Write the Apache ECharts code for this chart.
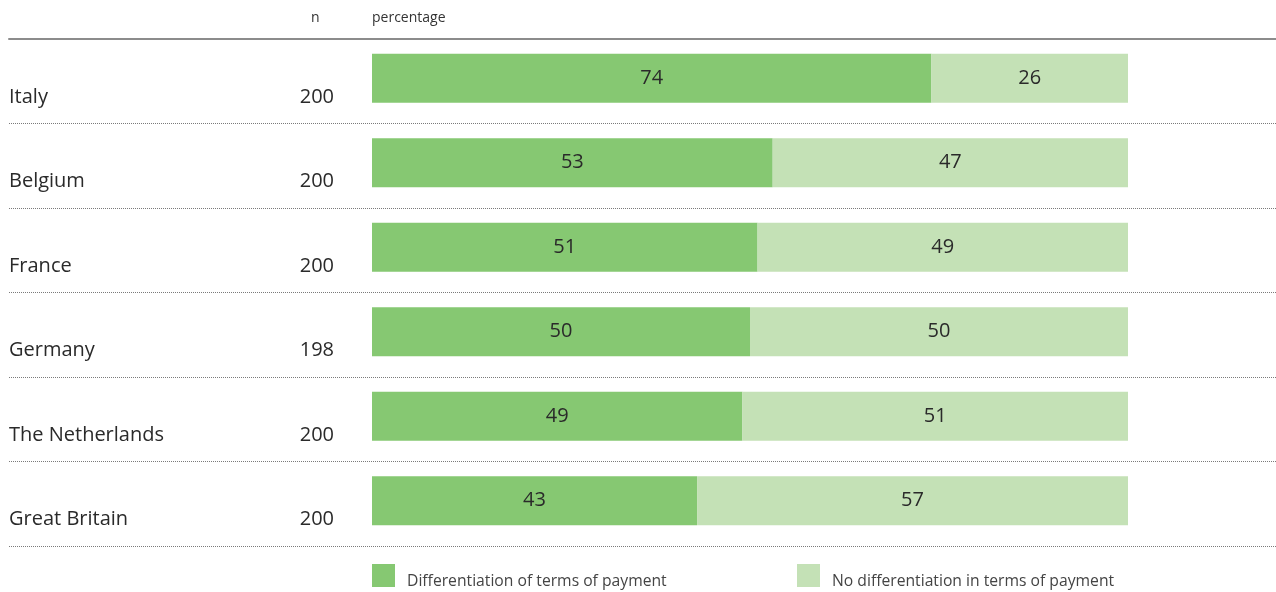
<!DOCTYPE html>
<html>
<head>
<meta charset="utf-8">
<script src="https://cdn.jsdelivr.net/npm/echarts@6/dist/echarts.min.js"></script>
<style>
  html, body { margin: 0; padding: 0; background: #fff; }
  #chart { width: 1276px; height: 592px; }
</style>
</head>
<body>
<div id="chart"></div>
<script>
// Countries, sample sizes and shares (percent)
const countries = ['Italy', 'Belgium', 'France', 'Germany', 'The Netherlands', 'Great Britain'];
const sampleSizes = [200, 200, 200, 198, 200, 200];
const differentiation = [74, 53, 51, 50, 49, 43];
const noDifferentiation = [26, 47, 49, 50, 51, 57];
const seriesNames = ['Differentiation of terms of payment', 'No differentiation in terms of payment'];
const colors = ['#86c872', '#c4e1b6'];

const FONT = '"Open Sans", "Noto Sans", sans-serif';
const TOP = 39, HEIGHT = 507;

const chart = echarts.init(document.getElementById('chart'), null, { renderer: 'canvas' });

const barLabel = {
  show: true,
  position: 'inside',
  color: '#2a2a2a',
  fontFamily: FONT,
  fontSize: 20
};

const legendBase = {
  padding: 0,
  itemWidth: 23, itemHeight: 23, itemGap: 0,
  icon: 'rect',
  formatter: name => '{t|' + name + '}',
  textStyle: {
    rich: {
      t: { fontFamily: FONT, fontSize: 15.7, color: '#444', padding: [12, 0, 0, 7] }
    }
  }
};

chart.setOption({
  animation: false,
  backgroundColor: '#fff',
  textStyle: { fontFamily: FONT },
  graphic: [
    { type: 'text', left: 311, top: 11, style: { text: 'n', font: '14px ' + FONT, fill: '#333' } },
    { type: 'text', left: 372, top: 11, style: { text: 'percentage', font: '14px ' + FONT, fill: '#333' } }
  ],
  legend: [
    Object.assign({ data: [seriesNames[0]], left: 372, top: 564 }, legendBase),
    Object.assign({ data: [seriesNames[1]], left: 797, top: 564 }, legendBase)
  ],
  grid: [
    { left: 372, width: 756, top: TOP - 3, height: HEIGHT },
    { left: 9, right: 0, top: TOP, height: HEIGHT }
  ],
  xAxis: [
    { gridIndex: 0, type: 'value', min: 0, max: 100, show: false },
    {
      gridIndex: 1, type: 'value', position: 'top', min: 0, max: 1,
      axisLine: { show: true, lineStyle: { color: '#8c8c8c', width: 2 } },
      axisTick: { show: false }, axisLabel: { show: false }, splitLine: { show: false }
    }
  ],
  yAxis: [
    {
      gridIndex: 0, type: 'category', data: countries, inverse: true,
      axisLine: { show: false }, axisTick: { show: false }, splitLine: { show: false },
      axisLabel: {
        margin: 38,
        formatter: (v, i) => String(sampleSizes[i]),
        fontFamily: FONT, fontSize: 20, color: '#2a2a2a',
        verticalAlign: 'top', lineHeight: 38
      }
    },
    {
      gridIndex: 1, type: 'category', data: countries, inverse: true,
      axisLine: { show: false }, axisTick: { show: false },
      splitLine: { show: true, lineStyle: { color: '#7a7a7a', width: 1, type: 'dotted' } },
      axisLabel: {
        margin: 0, align: 'left', inside: true,
        fontFamily: FONT, fontSize: 20, color: '#2a2a2a',
        verticalAlign: 'top', lineHeight: 32
      }
    }
  ],
  series: [
    {
      name: seriesNames[0], type: 'bar', stack: 'share',
      xAxisIndex: 0, yAxisIndex: 0,
      data: differentiation, barWidth: 49,
      itemStyle: { color: colors[0] },
      label: barLabel
    },
    {
      name: seriesNames[1], type: 'bar', stack: 'share',
      xAxisIndex: 0, yAxisIndex: 0,
      data: noDifferentiation, barWidth: 49,
      itemStyle: { color: colors[1] },
      label: barLabel
    }
  ]
});
</script>
</body>
</html>
